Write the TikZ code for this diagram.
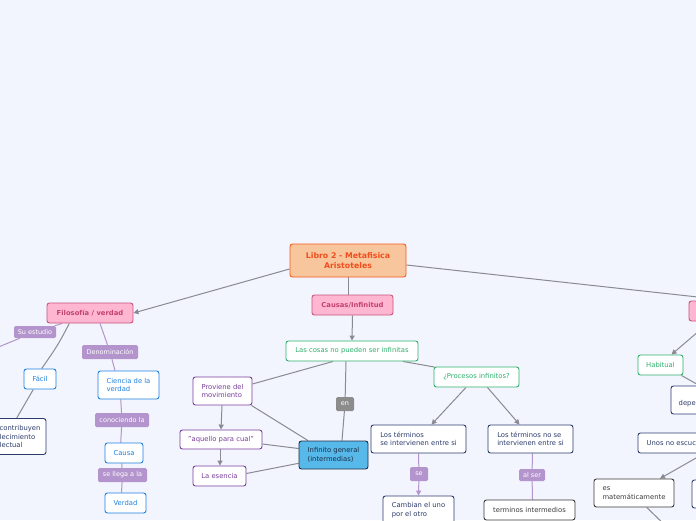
\documentclass[tikz,border=0pt]{standalone}
\usepackage{fontspec}
\setmainfont{DejaVu Sans}
\usetikzlibrary{arrows.meta}
\definecolor{bgc}{RGB}{242,244,254}
\definecolor{rootfill}{RGB}{248,198,156}
\definecolor{rootdraw}{RGB}{250,90,30}
\definecolor{roottext}{RGB}{240,78,30}
\definecolor{pinkfill}{RGB}{255,182,208}
\definecolor{pinkdraw}{RGB}{200,84,126}
\definecolor{pinktext}{RGB}{194,66,112}
\definecolor{greenc}{RGB}{46,176,108}
\definecolor{purplec}{RGB}{122,62,158}
\definecolor{bluec}{RGB}{30,130,225}
\definecolor{navyc}{RGB}{44,60,108}
\definecolor{darkc}{RGB}{58,58,58}
\definecolor{infill}{RGB}{86,185,234}
\definecolor{indraw}{RGB}{28,44,70}
\definecolor{lpurple}{RGB}{180,148,204}
\definecolor{engray}{RGB}{140,140,140}
\definecolor{linegray}{RGB}{138,138,146}
\pgfdeclarelayer{edgelayer}
\pgfsetlayers{edgelayer,main}
\tikzset{
  box/.style={draw, rounded corners=2.5pt, line width=0.9pt, fill=white, inner sep=0pt,
    font=\fontsize{6.8}{8.4}\selectfont, align=left},
  rootbox/.style={box, fill=rootfill, draw=rootdraw, text=roottext, align=center,
    font=\fontsize{7.8}{9.6}\selectfont\bfseries},
  pinkbox/.style={box, fill=pinkfill, draw=pinkdraw, text=pinktext,
    font=\fontsize{6.8}{8.4}\selectfont\bfseries},
  greenbox/.style={box, draw=greenc, text=greenc},
  purplebox/.style={box, draw=purplec, text=purplec},
  bluebox/.style={box, draw=bluec, text=bluec},
  navybox/.style={box, draw=navyc, text=navyc},
  darkbox/.style={box, draw=darkc, text=darkc},
  infbox/.style={box, fill=infill, draw=indraw, text=indraw},
  lab/.style={fill=lpurple, text=white, rounded corners=1.5pt, inner sep=0pt,
    font=\fontsize{6.5}{8}\selectfont},
  enlab/.style={lab, fill=engray},
  plaintext/.style={inner sep=0pt, font=\fontsize{6.8}{8.4}\selectfont, align=left},
  gline/.style={draw=linegray, line width=1pt},
  garrow/.style={gline, -{Triangle[length=5pt,width=5pt]}},
  pline/.style={draw=lpurple, line width=1pt},
  parrow/.style={pline, -{Triangle[length=5pt,width=5pt]}}
}
\begin{document}
\begin{tikzpicture}[x=1pt,y=-1pt]
\useasboundingbox (0,0) rectangle (696,520);
% nodes
\node[rootbox, minimum width=116pt, minimum height=33pt] (root) at (348,260.5) {Libro 2 - Metafisica\\Aristoteles};
\node[pinkbox, minimum width=81pt, minimum height=20pt] (causas) at (352.5,305) {Causas/Infinitud};
\node[pinkbox, minimum width=86pt, minimum height=20pt] (filo) at (90,313) {Filosofía / verdad};
\node[pinkbox, minimum width=82pt, minimum height=20pt] (rpink) at (730,311) {};
\node[greenbox, minimum width=132pt, minimum height=20pt] (cosas) at (352,351) {Las cosas no pueden ser infinitas};
\node[greenbox, minimum width=85pt, minimum height=20pt] (procesos) at (476.5,377) {¿Procesos infinitos?};
\node[purplebox, minimum width=59pt, minimum height=28pt] (proviene) at (222.5,391) {Proviene del\\movimiento};
\node[enlab, minimum width=18pt, minimum height=14pt] (en) at (345,404) {en};
\node[purplebox, minimum width=82pt, minimum height=19pt] (aquello) at (221,439.5) {"aquello para cual"};
\node[purplebox, minimum width=53pt, minimum height=20pt] (esencia) at (219.5,476) {La esencia};
\node[infbox, minimum width=69pt, minimum height=28pt] (infinito) at (333.5,455) {Infinito general\\(intermedias)};
\node[navybox, minimum width=95pt, minimum height=28pt] (term1) at (418.5,439) {Los términos\\se intervienen entre si};
\node[navybox, minimum width=85pt, minimum height=28pt] (term2) at (530.5,439) {Los términos no se\\intervienen entre si};
\node[lab, minimum width=18pt, minimum height=14pt] (se) at (419,474) {se};
\node[lab, minimum width=26pt, minimum height=12pt] (alser) at (532,475) {al ser};
\node[navybox, minimum width=71pt, minimum height=28pt] (cambian) at (418.5,510) {Cambian el uno\\por el otro};
\node[darkbox, minimum width=91pt, minimum height=20pt] (intermedios) at (529.5,510) {terminos intermedios};
\node[greenbox, minimum width=45pt, minimum height=20pt] (habitual) at (660.5,365) {Habitual};
\node[navybox, minimum width=80pt, minimum height=28pt] (depebox) at (711,400) {};
\node[plaintext, text=navyc, anchor=west] (depetext) at (678.5,404) {depe};
\node[navybox, minimum width=120pt, minimum height=20pt] (unos) at (698,443) {};
\node[plaintext, text=navyc, anchor=west] (unostext) at (646.5,443) {Unos no escuc};
\node[darkbox, minimum width=80pt, minimum height=28pt] (esmat) at (634,493) {es\\matemáticamente};
\node[navybox, minimum width=76pt, minimum height=28pt] (rpartial) at (730,494) {};
\coordinate (matdown) at (668,528);
\node[navybox, minimum width=86pt, minimum height=36pt] (leftbox) at (3,436.5) {};
\node[plaintext, text=navyc, anchor=west] (lefttext) at (-0.5,436.7) {contribuyen\\lecimiento\\lectual};
\node[lab, minimum width=42pt, minimum height=12pt] (suestudio) at (35,332) {Su estudio};
\coordinate (sudown) at (-10,350.5);
\node[bluebox, minimum width=32pt, minimum height=20pt] (facil) at (40,379) {Fácil};
\node[lab, minimum width=56pt, minimum height=14pt] (denom) at (110,352) {Denominación};
\node[bluebox, minimum width=61pt, minimum height=28pt] (ciencia) at (128.5,385) {Ciencia de la\\verdad};
\node[lab, minimum width=54pt, minimum height=14pt] (conociendo) at (122,420) {conociendo la};
\node[bluebox, minimum width=38pt, minimum height=20pt] (causa) at (124,453) {Causa};
\node[lab, minimum width=49pt, minimum height=14pt] (sellega) at (122.5,475) {se llega a la};
\node[bluebox, minimum width=41pt, minimum height=20pt] (verdad) at (125.5,503) {Verdad};
% edges
\begin{pgfonlayer}{edgelayer}
\fill[bgc] (0,0) rectangle (696,520);
\draw[garrow] ([yshift=-8.5pt]root.west) -- (filo.east);
\draw[gline] ([yshift=-4.5pt]root.east) -- (rpink.north);
\draw[gline] (root.south) -- (root.south |- causas.north);
\draw[garrow] (causas.south) -- (cosas.north);
\draw[gline] ([xshift=-19pt]cosas.south) -- ([yshift=7pt]proviene.east);
\draw[gline] ([xshift=51pt]cosas.south) -- ([xshift=1pt,yshift=-0.5pt]procesos.north west);
\draw[gline] ([xshift=-6pt]cosas.south) -- (en) -- ([xshift=8.5pt]infinito.north);
\draw[garrow] ([xshift=-0.5pt]proviene.south) -- (aquello.north);
\draw[gline] ([xshift=-1pt]proviene.south east) -- ([xshift=-25.5pt]infinito.north);
\draw[gline] ([yshift=-4.5pt]aquello.east) -- ([yshift=6.5pt]infinito.west);
\draw[garrow] ([xshift=-1pt]aquello.south) -- ([xshift=0.5pt]esencia.north);
\draw[gline] ([yshift=2.5pt]esencia.east) -- ([yshift=-8.3pt]infinito.west);
\draw[garrow] ([xshift=-10.5pt]procesos.south) -- ([xshift=13pt]term1.north);
\draw[garrow] ([xshift=11pt]procesos.south) -- ([xshift=-11pt]term2.north);
\draw[pline] (term1.south) -- (se);
\draw[parrow] (se) -- (cambian.north);
\draw[pline] ([xshift=2pt]term2.south) -- (alser) -- ([xshift=3pt]intermedios.north);
\draw[garrow] ([xshift=-20pt]rpink.south) -- ([xshift=11pt]habitual.north);
\draw[gline] ([xshift=21pt]habitual.south) -- ([xshift=-11.6pt]depebox.north);
\draw[garrow] ([xshift=6pt]unos.south) -- ([xshift=26pt]esmat.north);
\draw[gline] ([xshift=12.7pt]esmat.south) -- (matdown);
\draw[pline] ([xshift=-28pt]filo.south) -- (suestudio) -- (sudown);
\draw[gline] ([xshift=-20.7pt]filo.south) .. controls (58,345) .. ([xshift=1.7pt]facil.north);
\draw[gline] ([xshift=-6.7pt]facil.south) -- ([xshift=13.7pt]leftbox.north);
\draw[pline] ([xshift=10pt]filo.south) -- (denom) -- ([xshift=-13.5pt]ciencia.north);
\draw[pline] ([xshift=-7.8pt]ciencia.south) -- (conociendo) -- ([xshift=-3.3pt]causa.north);
\draw[pline] ([xshift=-2.3pt]causa.south) -- (sellega) -- ([xshift=-4pt]verdad.north);
\end{pgfonlayer}
\end{tikzpicture}
\end{document}
